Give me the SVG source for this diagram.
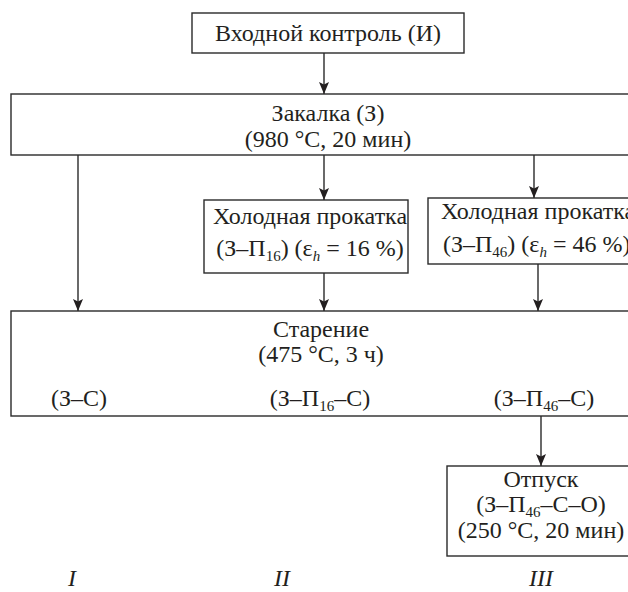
<svg xmlns="http://www.w3.org/2000/svg" width="628" height="592" viewBox="0 0 628 592">
<style>
.b{fill:#fff;stroke:#2a2a2a;stroke-width:1.4}
.c{stroke:#2a2a2a;stroke-width:1.4;fill:none;marker-end:url(#a)}
</style>
<defs>
<marker id="a" viewBox="0 0 12 10" refX="12" refY="5" markerWidth="12" markerHeight="10" markerUnits="userSpaceOnUse" orient="auto">
<path d="M0,0 L12,5 L0,10 L2.5,5 Z" fill="#231f20"/>
</marker>
</defs>
<g id="vhod"><rect class="b" x="192" y="13" width="272" height="40"/><text font-family="Liberation Serif" font-size="24" fill="#231f20" text-anchor="middle" x="328" y="41">Входной контроль (И)</text></g>
<g id="zakalka"><rect class="b" x="11" y="94" width="630" height="61"/><text font-family="Liberation Serif" font-size="24" fill="#231f20" text-anchor="middle" x="328" y="121">Закалка (З)</text><text font-family="Liberation Serif" font-size="24" fill="#231f20" text-anchor="middle" x="328" y="147">(980 °С, 20 мин)</text></g>
<g id="prokatka16"><rect class="b" x="204" y="200" width="204" height="73"/><text font-family="Liberation Serif" font-size="24" fill="#231f20" text-anchor="middle" x="310" y="224">Холодная прокатка</text><text font-family="Liberation Serif" font-size="24" fill="#231f20" text-anchor="middle" x="310" y="256">(З–П<tspan font-size="15" dy="5">16</tspan><tspan dy="-5">) (ε</tspan><tspan font-size="15" font-style="italic" dy="5">h</tspan><tspan dy="-5"> = 16 %)</tspan></text></g>
<g id="prokatka46"><rect class="b" x="428" y="198" width="210" height="66"/><text font-family="Liberation Serif" font-size="24" fill="#231f20" x="441" y="219">Холодная прокатка</text><text font-family="Liberation Serif" font-size="24" fill="#231f20" x="443" y="252">(З–П<tspan font-size="15" dy="5">46</tspan><tspan dy="-5">) (ε</tspan><tspan font-size="15" font-style="italic" dy="5">h</tspan><tspan dy="-5"> = 46 %)</tspan></text></g>
<g id="starenie"><rect class="b" x="11" y="311" width="630" height="105"/><text font-family="Liberation Serif" font-size="24" fill="#231f20" text-anchor="middle" x="321" y="337">Старение</text><text font-family="Liberation Serif" font-size="24" fill="#231f20" text-anchor="middle" x="321" y="362">(475 °С, 3 ч)</text><text font-family="Liberation Serif" font-size="24" fill="#231f20" text-anchor="middle" x="79" y="406">(З–С)</text><text font-family="Liberation Serif" font-size="24" fill="#231f20" text-anchor="middle" x="320" y="406">(З–П<tspan font-size="15" dy="5">16</tspan><tspan dy="-5">–С)</tspan></text><text font-family="Liberation Serif" font-size="24" fill="#231f20" text-anchor="middle" x="544" y="406">(З–П<tspan font-size="15" dy="5">46</tspan><tspan dy="-5">–С)</tspan></text></g>
<g id="otpusk"><rect class="b" x="447" y="466" width="190" height="90"/><text font-family="Liberation Serif" font-size="24" fill="#231f20" text-anchor="middle" x="541" y="487">Отпуск</text><text font-family="Liberation Serif" font-size="24" fill="#231f20" text-anchor="middle" x="541" y="512">(З–П<tspan font-size="15" dy="5">46</tspan><tspan dy="-5">–С–О)</tspan></text><text font-family="Liberation Serif" font-size="24" fill="#231f20" text-anchor="middle" x="541" y="538">(250 °С, 20 мин)</text></g>
<g id="labels"><text font-family="Liberation Serif" font-size="24" font-style="italic" fill="#231f20" text-anchor="middle" x="72" y="586">I</text><text font-family="Liberation Serif" font-size="24" font-style="italic" fill="#231f20" text-anchor="middle" x="282" y="586">II</text><text font-family="Liberation Serif" font-size="24" font-style="italic" fill="#231f20" text-anchor="middle" x="541" y="586">III</text></g>
<g id="connectors">
<line class="c" x1="324" y1="53" x2="324" y2="94"/>
<line class="c" x1="78" y1="155" x2="78" y2="311"/>
<line class="c" x1="324" y1="155" x2="324" y2="200"/>
<line class="c" x1="534" y1="155" x2="534" y2="198"/>
<line class="c" x1="324" y1="273" x2="324" y2="311"/>
<line class="c" x1="538" y1="264" x2="538" y2="311"/>
<line class="c" x1="541" y1="416" x2="541" y2="466"/>
</g>
</svg>
